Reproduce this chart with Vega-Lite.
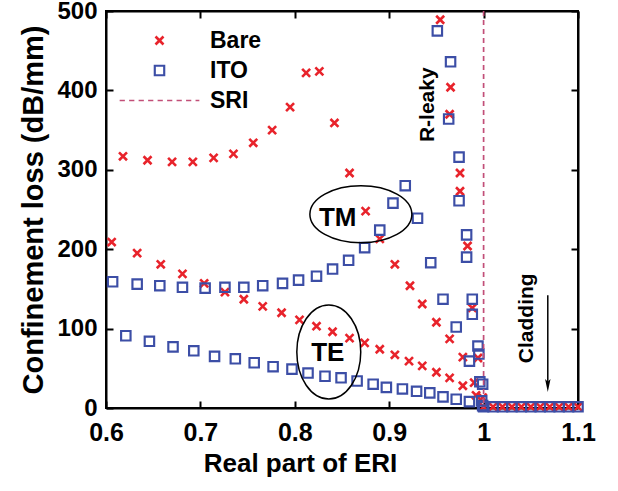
{
  "$schema": "https://vega.github.io/schema/vega-lite/v6.json",
  "width": 472,
  "height": 397,
  "autosize": {"type": "none"},
  "padding": {"left": 106, "top": 11, "right": 40, "bottom": 83},
  "background": "white",
  "config": {
    "font": "Liberation Sans",
    "view": {"stroke": "black", "strokeWidth": 2},
    "axis": {
      "labelFont": "Liberation Sans", "labelFontWeight": "bold", "labelFontSize": 25, "labelColor": "black",
      "titleFont": "Liberation Sans", "titleFontWeight": "bold", "titleFontSize": 25, "titleColor": "black",
      "domainColor": "black", "domainWidth": 2, "tickColor": "black", "tickWidth": 2, "tickSize": -7, "grid": false,
      "labelFlush": false
    }
  },
  "datasets": {
    "pts": [
      {"s":"Bare","x":0.618,"y":317},{"s":"Bare","x":0.644,"y":312},{"s":"Bare","x":0.670,"y":310},{"s":"Bare","x":0.692,"y":310},
      {"s":"Bare","x":0.714,"y":315},{"s":"Bare","x":0.735,"y":320},{"s":"Bare","x":0.756,"y":334},{"s":"Bare","x":0.776,"y":350},
      {"s":"Bare","x":0.795,"y":379},{"s":"Bare","x":0.812,"y":422},{"s":"Bare","x":0.826,"y":424},{"s":"Bare","x":0.842,"y":359},
      {"s":"Bare","x":0.858,"y":296},{"s":"Bare","x":0.875,"y":248},{"s":"Bare","x":0.890,"y":213},{"s":"Bare","x":0.906,"y":181},
      {"s":"Bare","x":0.922,"y":154},{"s":"Bare","x":0.935,"y":131},{"s":"Bare","x":0.950,"y":108},{"s":"Bare","x":0.964,"y":87},
      {"s":"Bare","x":0.978,"y":64},
      {"s":"Bare","x":0.606,"y":209},{"s":"Bare","x":0.633,"y":195},{"s":"Bare","x":0.658,"y":181},{"s":"Bare","x":0.681,"y":169},
      {"s":"Bare","x":0.704,"y":157},{"s":"Bare","x":0.726,"y":146},{"s":"Bare","x":0.746,"y":137},{"s":"Bare","x":0.766,"y":128},
      {"s":"Bare","x":0.786,"y":120},{"s":"Bare","x":0.805,"y":111},{"s":"Bare","x":0.823,"y":103},{"s":"Bare","x":0.840,"y":96},
      {"s":"Bare","x":0.858,"y":88},{"s":"Bare","x":0.874,"y":82},{"s":"Bare","x":0.890,"y":74},{"s":"Bare","x":0.906,"y":67},
      {"s":"Bare","x":0.921,"y":59},{"s":"Bare","x":0.935,"y":53},{"s":"Bare","x":0.950,"y":45},{"s":"Bare","x":0.964,"y":38},
      {"s":"Bare","x":0.978,"y":28},{"s":"Bare","x":0.992,"y":16},
      {"s":"Bare","x":0.954,"y":489},{"s":"Bare","x":0.965,"y":404},{"s":"Bare","x":0.964,"y":370},{"s":"Bare","x":0.975,"y":296},
      {"s":"Bare","x":0.975,"y":273},{"s":"Bare","x":0.983,"y":204},{"s":"Bare","x":0.988,"y":126},{"s":"Bare","x":0.994,"y":63},
      {"s":"Bare","x":0.990,"y":32},{"s":"Bare","x":0.999,"y":13},
      {"s":"Bare","x":1.00,"y":1.5},{"s":"Bare","x":1.01,"y":1.5},{"s":"Bare","x":1.02,"y":1.5},{"s":"Bare","x":1.03,"y":1.5},
      {"s":"Bare","x":1.04,"y":1.5},{"s":"Bare","x":1.05,"y":1.5},{"s":"Bare","x":1.06,"y":1.5},{"s":"Bare","x":1.07,"y":1.5},
      {"s":"Bare","x":1.08,"y":1.5},{"s":"Bare","x":1.09,"y":1.5},{"s":"Bare","x":1.10,"y":1.5},
      {"s":"ITO","x":0.607,"y":159},{"s":"ITO","x":0.633,"y":156},{"s":"ITO","x":0.657,"y":154},{"s":"ITO","x":0.681,"y":152},
      {"s":"ITO","x":0.705,"y":151},{"s":"ITO","x":0.726,"y":152},{"s":"ITO","x":0.746,"y":152},{"s":"ITO","x":0.766,"y":154},
      {"s":"ITO","x":0.787,"y":157},{"s":"ITO","x":0.804,"y":161},{"s":"ITO","x":0.823,"y":166},{"s":"ITO","x":0.840,"y":175},
      {"s":"ITO","x":0.857,"y":186},{"s":"ITO","x":0.874,"y":202},{"s":"ITO","x":0.890,"y":224},{"s":"ITO","x":0.904,"y":258},
      {"s":"ITO","x":0.917,"y":280},{"s":"ITO","x":0.930,"y":239},{"s":"ITO","x":0.944,"y":183},{"s":"ITO","x":0.957,"y":137},
      {"s":"ITO","x":0.971,"y":102},{"s":"ITO","x":0.985,"y":59},
      {"s":"ITO","x":0.621,"y":91},{"s":"ITO","x":0.646,"y":84},{"s":"ITO","x":0.671,"y":77},{"s":"ITO","x":0.693,"y":72},
      {"s":"ITO","x":0.715,"y":65},{"s":"ITO","x":0.737,"y":62},{"s":"ITO","x":0.757,"y":57},{"s":"ITO","x":0.777,"y":52},
      {"s":"ITO","x":0.797,"y":49},{"s":"ITO","x":0.814,"y":44},{"s":"ITO","x":0.832,"y":40},{"s":"ITO","x":0.849,"y":38},
      {"s":"ITO","x":0.866,"y":34},{"s":"ITO","x":0.883,"y":30},{"s":"ITO","x":0.897,"y":26},{"s":"ITO","x":0.914,"y":24},
      {"s":"ITO","x":0.929,"y":21},{"s":"ITO","x":0.943,"y":19},{"s":"ITO","x":0.957,"y":14},{"s":"ITO","x":0.971,"y":11},
      {"s":"ITO","x":0.985,"y":8},{"s":"ITO","x":0.998,"y":9},
      {"s":"ITO","x":0.951,"y":475},{"s":"ITO","x":0.965,"y":436},{"s":"ITO","x":0.963,"y":364},{"s":"ITO","x":0.974,"y":316},
      {"s":"ITO","x":0.974,"y":261},{"s":"ITO","x":0.982,"y":218},{"s":"ITO","x":0.982,"y":190},{"s":"ITO","x":0.988,"y":137},
      {"s":"ITO","x":0.988,"y":118},{"s":"ITO","x":0.994,"y":78},{"s":"ITO","x":0.995,"y":68},{"s":"ITO","x":0.996,"y":33},
      {"s":"ITO","x":0.999,"y":30},{"s":"ITO","x":0.999,"y":3},
      {"s":"ITO","x":1.00,"y":1.5},{"s":"ITO","x":1.01,"y":1.5},{"s":"ITO","x":1.02,"y":1.5},{"s":"ITO","x":1.03,"y":1.5},
      {"s":"ITO","x":1.04,"y":1.5},{"s":"ITO","x":1.05,"y":1.5},{"s":"ITO","x":1.06,"y":1.5},{"s":"ITO","x":1.07,"y":1.5},
      {"s":"ITO","x":1.08,"y":1.5},{"s":"ITO","x":1.09,"y":1.5},{"s":"ITO","x":1.10,"y":1.5}
    ]
  },
  "resolve": {"axis": {"x": "independent", "y": "independent"}},
  "layer": [
    {
      "data": {"values": [{"x": 0.6, "x2": 1.1, "y": 500}]},
      "mark": {"type": "rule", "color": "black", "strokeWidth": 2},
      "encoding": {
        "x": {"field": "x", "type": "quantitative", "scale": {"domain": [0.6, 1.1], "nice": false, "zero": false}, "axis": null},
        "x2": {"field": "x2"},
        "y": {"field": "y", "type": "quantitative", "scale": {"domain": [0, 500], "nice": false, "zero": true}, "axis": null}
      }
    },
    {
      "data": {"values": [{"x": 1.1, "y": 0, "y2": 500}]},
      "mark": {"type": "rule", "color": "black", "strokeWidth": 2},
      "encoding": {
        "x": {"field": "x", "type": "quantitative", "axis": null},
        "y": {"field": "y", "type": "quantitative", "axis": null},
        "y2": {"field": "y2"}
      }
    },
    {
      "data": {"name": "pts"},
      "mark": {"type": "point", "filled": false, "opacity": 1},
      "encoding": {
        "x": {"field": "x", "type": "quantitative",
              "scale": {"domain": [0.6, 1.1], "nice": false, "zero": false},
              "axis": {"values": [0.6, 0.7, 0.8, 0.9, 1, 1.1], "format": "~g", "title": "Real part of ERI", "labelPadding": 19, "titlePadding": 5, "titleX": 194, "titleAlign": "center", "titleFontSize": 26}},
        "y": {"field": "y", "type": "quantitative",
              "scale": {"domain": [0, 500], "nice": false, "zero": true},
              "axis": {"values": [0, 100, 200, 300, 400, 500], "title": "Confinement loss (dB/mm)", "labelPadding": 16, "titlePadding": 8, "titleFontSize": 29, "labelFontSize": 24}},
        "color": {"field": "s", "type": "nominal",
                  "scale": {"domain": ["Bare", "ITO", "SRI"], "range": ["#e8232b", "#3c4ea6", "#c24f78"]},
                  "legend": {"orient": "none", "legendX": 12, "legendY": 18, "title": null, "padding": 0,
                             "labelFont": "Liberation Sans", "labelFontSize": 23, "labelFontWeight": "bold", "labelColor": "black",
                             "labelOffset": 39, "symbolOffset": 30, "symbolStrokeWidth": 2, "symbolSize": 90, "rowPadding": 6}},
        "shape": {"field": "s", "type": "nominal",
                  "scale": {"domain": ["Bare", "ITO", "SRI"],
                            "range": ["M-0.85,-0.85L0.85,0.85M-0.85,0.85L0.85,-0.85", "square", "M-8.4,0L-7.3,0M-6.4,0L-5.3,0M-4.4,0L-3.3,0M-2.4,0L-1.3,0M-0.4,0L0.7,0M1.6,0L2.7,0M3.6,0L4.7,0M5.6,0L6.7,0M7.6,0L8.4,0"]}},
        "size": {"field": "s", "type": "nominal",
                 "scale": {"domain": ["Bare", "ITO", "SRI"], "range": [88, 90, 90]}, "legend": null},
        "strokeWidth": {"field": "s", "type": "nominal",
                        "scale": {"domain": ["Bare", "ITO", "SRI"], "range": [2.6, 1.7, 1.7]}, "legend": null}
      }
    },
    {
      "data": {"values": [{"s": "SRI", "x": 1}]},
      "mark": {"type": "rule", "strokeDash": [5, 4], "strokeWidth": 1.7},
      "encoding": {
        "x": {"field": "x", "type": "quantitative",
              "axis": {"orient": "top", "labels": false, "domain": true, "title": null, "values": [0.6, 0.7, 0.8, 0.9, 1, 1.1]}},
        "color": {"field": "s", "type": "nominal"}
      }
    },
    {
      "data": {"values": [{"x": 0.870, "y": 244}]},
      "mark": {"type": "point", "filled": false, "opacity": 1, "color": "black", "strokeWidth": 1.5,
               "shape": "M-1,0A1,0.56,0,1,0,1,0A1,0.56,0,1,0,-1,0Z", "size": 10404},
      "encoding": {
        "x": {"field": "x", "type": "quantitative", "axis": null},
        "y": {"field": "y", "type": "quantitative",
              "axis": {"orient": "right", "labels": false, "domain": true, "title": null, "values": [0, 100, 200, 300, 400, 500]}}
      }
    },
    {
      "data": {"values": [{"x": 0.836, "y": 70.5}]},
      "mark": {"type": "point", "filled": false, "opacity": 1, "color": "black", "strokeWidth": 1.5,
               "shape": "M0,-1A0.68,1,0,1,0,0,1A0.68,1,0,1,0,0,-1Z", "size": 8836},
      "encoding": {
        "x": {"field": "x", "type": "quantitative", "axis": null},
        "y": {"field": "y", "type": "quantitative", "axis": null}
      }
    },
    {
      "data": {"values": [{"t": "TM", "x": 0.8455, "y": 239}, {"t": "TE", "x": 0.835, "y": 69}]},
      "mark": {"type": "text", "font": "Liberation Sans", "fontWeight": "bold", "fontSize": 26, "color": "black", "align": "center", "baseline": "middle"},
      "encoding": {
        "x": {"field": "x", "type": "quantitative", "axis": null},
        "y": {"field": "y", "type": "quantitative", "axis": null},
        "text": {"field": "t"}
      }
    },
    {
      "data": {"values": [{"t": "R-leaky", "x": 0.941, "y": 382}, {"t": "Cladding", "x": 1.0455, "y": 113}]},
      "mark": {"type": "text", "font": "Liberation Sans", "fontWeight": "bold", "fontSize": 21, "color": "black", "align": "center", "baseline": "middle", "angle": 270},
      "encoding": {
        "x": {"field": "x", "type": "quantitative", "axis": null},
        "y": {"field": "y", "type": "quantitative", "axis": null},
        "text": {"field": "t"}
      }
    },
    {
      "data": {"values": [{"x": 1.068, "y": 142, "y2": 32}]},
      "mark": {"type": "rule", "color": "black", "strokeWidth": 1.5},
      "encoding": {
        "x": {"field": "x", "type": "quantitative", "axis": null},
        "y": {"field": "y", "type": "quantitative", "axis": null},
        "y2": {"field": "y2"}
      }
    },
    {
      "data": {"values": [{"x": 1.068, "y": 28.3}]},
      "mark": {"type": "point", "filled": true, "opacity": 1, "color": "black", "strokeWidth": 0,
               "shape": "M-0.42,-1L0,1L0.42,-1L0,-0.6Z", "size": 169},
      "encoding": {
        "x": {"field": "x", "type": "quantitative", "axis": null},
        "y": {"field": "y", "type": "quantitative", "axis": null}
      }
    }
  ]
}
